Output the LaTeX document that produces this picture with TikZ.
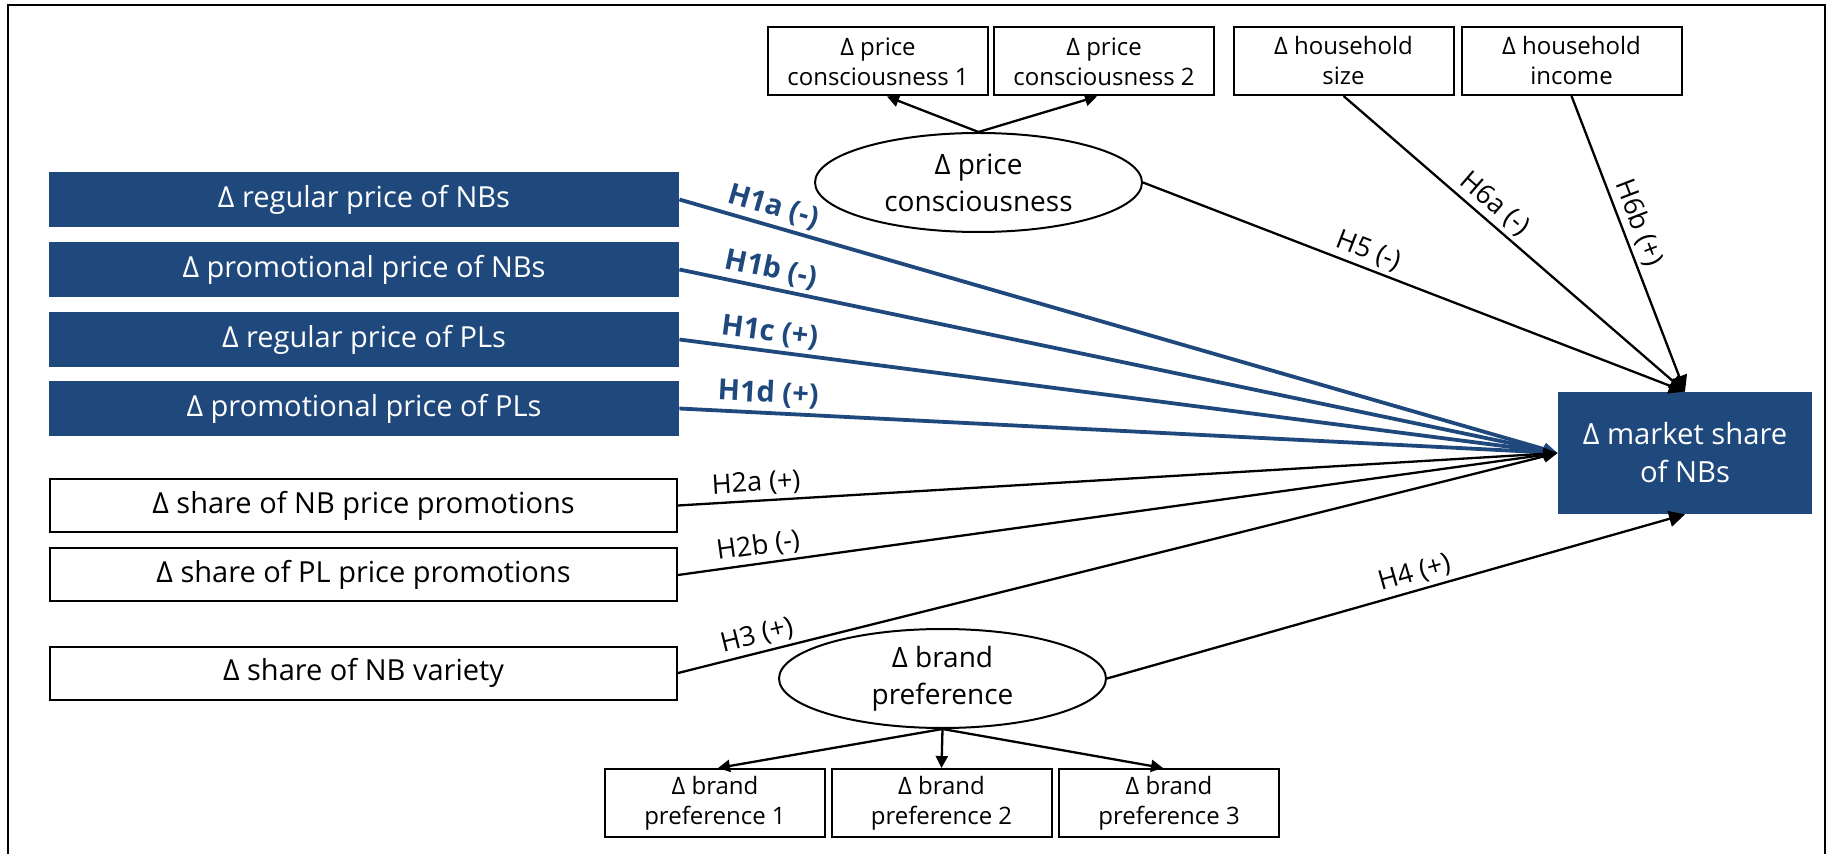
\documentclass[tikz,border=0pt]{standalone}
\usepackage{fontspec}
\setmainfont{Open Sans}
\usetikzlibrary{arrows.meta,shapes.geometric}
\definecolor{nbblue}{RGB}{31,73,125}
\begin{document}
\begin{tikzpicture}[x=0.5pt,y=-0.5pt,
  bluebox/.style={fill=nbblue,text=white,minimum width=315pt,minimum height=27.5pt,inner sep=0pt,font=\fontsize{14.5}{17}\selectfont},
  whitebox/.style={draw=black,line width=1pt,fill=white,minimum width=313.5pt,minimum height=26.5pt,inner sep=0pt,font=\fontsize{14.5}{17}\selectfont},
  smallbox/.style={draw=black,line width=1pt,fill=white,minimum width=110pt,minimum height=34pt,inner sep=0pt,align=center,font=\fontsize{12}{15}\selectfont},
  latent/.style={ellipse,draw=black,line width=1pt,fill=white,minimum width=163.5pt,minimum height=49.5pt,inner sep=0pt,align=center,font=\fontsize{14}{18.5}\selectfont},
  target/.style={fill=nbblue,text=white,minimum width=127pt,minimum height=61pt,inner sep=0pt,align=center,font=\fontsize{14.6}{19}\selectfont},
  hyp/.style={font=\fontsize{13.5}{16}\selectfont,inner sep=1pt,sloped,above=1pt},
  hypb/.style={font=\fontsize{14.5}{16}\selectfont\bfseries,text=nbblue,inner sep=1pt,sloped,above=1pt},
  arr/.style={draw=black,line width=1.15pt,-{Triangle[length=6pt,width=6pt]}},
  msarr/.style={draw=black,line width=1.15pt,-{Triangle[length=8pt,width=8pt]}},
  bluearr/.style={draw=nbblue,line width=1.9pt,-{Triangle[length=7pt,width=6pt]}},
  blkarr/.style={draw=black,line width=1.15pt,-{Triangle[length=7pt,width=6pt]}}
]
\useasboundingbox (0,0) rectangle (1829,854);
% frame
\draw[line width=1pt] (7.5,854) -- (7.5,5) -- (1825,5) -- (1825,854);

% left column
\node[bluebox] (rpnb) at (364,199.5) {Δ regular price of NBs};
\node[bluebox] (ppnb) at (364,269.5) {Δ promotional price of NBs};
\node[bluebox] (rppl) at (364,339.5) {Δ regular price of PLs};
\node[bluebox] (pppl) at (364,408.5) {Δ promotional price of PLs};
\node[whitebox] (snbp) at (363.5,505.5) {Δ share of NB price promotions};
\node[whitebox] (splp) at (363.5,575) {Δ share of PL price promotions};
\node[whitebox] (snbv) at (363.5,673) {Δ share of NB variety};

% top
\node[smallbox] (pc1) at (878,61.5) {Δ price\\consciousness 1};
\node[smallbox] (pc2) at (1104,61.5) {Δ price\\consciousness 2};
\node[smallbox] (hhs) at (1343.5,61) {Δ household\\size};
\node[smallbox] (hhi) at (1571.5,61) {Δ household\\income};
\node[latent] (pc) at (978.5,182.5) {Δ price\\consciousness};

% bottom
\node[latent] (bp) at (942.5,678.5) {Δ brand\\preference};
\node[smallbox] (bp1) at (715,803) {Δ brand\\preference 1};
\node[smallbox] (bp2) at (941.5,803) {Δ brand\\preference 2};
\node[smallbox] (bp3) at (1169,803) {Δ brand\\preference 3};

% target
\node[target] (ms) at (1685,453) {Δ market share\\of NBs};

% measurement arrows
\draw[arr] (pc.north) -- ([xshift=4.5pt]pc1.south);
\draw[arr] (pc.north) -- ([xshift=-3.5pt]pc2.south);
\draw[arr] (bp.south) -- ([xshift=1.5pt]bp1.north);
\draw[arr] (bp.south) -- (bp2.north);
\draw[arr] (bp.south) -- ([xshift=-3pt]bp3.north);

% blue hypotheses
\draw[bluearr] (rpnb.east) -- node[hypb,pos=0.101] {H1a (-)} (ms.west);
\draw[bluearr] (ppnb.east) -- node[hypb,pos=0.1] {H1b (-)} (ms.west);
\draw[bluearr] (rppl.east) -- node[hypb,pos=0.1] {H1c (+)} (ms.west);
\draw[bluearr] (pppl.east) -- node[hypb,pos=0.1] {H1d (+)} (ms.west);

% black hypotheses
\draw[blkarr] (snbp.east) -- node[hyp,pos=0.09] {H2a (+)} (ms.west);
\draw[blkarr] (splp.east) -- node[hyp,pos=0.094] {H2b (-)} (ms.west);
\draw[blkarr] (snbv.east) -- node[hyp,pos=0.0945] {H3 (+)} (ms.west);
\draw[msarr] (bp.east) -- node[hyp,pos=0.54] {H4 (+)} (ms.south);
\draw[msarr] (pc.east) -- node[hyp,pos=0.405] {H5 (-)} (ms.north);
\draw[msarr] (hhs.south) -- node[hyp,pos=0.41] {H6a (-)} (ms.north);
\draw[msarr] (hhi.south) -- node[hyp,pos=0.45] {H6b (+)} (ms.north);
\end{tikzpicture}
\end{document}
